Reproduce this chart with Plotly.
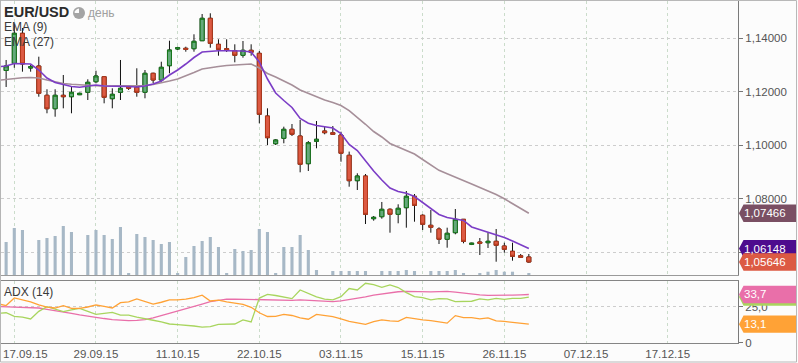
import pandas as pd
import plotly.graph_objects as go

# ---------------- data ----------------
dates = [d.strftime("%d.%m.%y") for d in pd.date_range("2015-09-15", "2015-11-30") if d.weekday() != 5]

opens = [1.13050,
         1.12798, 1.13066, 1.14187, 1.12891, 1.12966, 1.11872, 1.11371, 1.11872, 1.11819, 1.11894,
         1.11984, 1.12379, 1.12566, 1.11745, 1.11984, 1.12208, 1.12170, 1.11984, 1.12693, 1.12443,
         1.12977, 1.13600, 1.13627, 1.13612, 1.13910, 1.14747, 1.13776, 1.13612, 1.13537, 1.13365,
         1.13552, 1.13440, 1.11099, 1.10064, 1.10266, 1.10602, 1.10352, 1.09318, 1.10154, 1.10539,
         1.10475, 1.10389, 1.09631, 1.08683, 1.08858, 1.07264, 1.07339, 1.07615, 1.07428, 1.07675,
         1.08100, 1.07391, 1.07017, 1.06879, 1.06495, 1.06741, 1.07241, 1.06308, 1.06394, 1.06368,
         1.06420, 1.06244, 1.06047, 1.05882, 1.05834]
highs = [1.13300,
         1.13190, 1.14534, 1.14385, 1.13003, 1.13313, 1.12096, 1.12096, 1.12630, 1.12219, 1.11970,
         1.12469, 1.12790, 1.12590, 1.12133, 1.13190, 1.12230, 1.12880, 1.12816, 1.12716, 1.13126,
         1.13910, 1.13686, 1.13686, 1.14149, 1.14907, 1.14934, 1.13963, 1.13963, 1.13776, 1.13899,
         1.13776, 1.13526, 1.11386, 1.10229, 1.10699, 1.10800, 1.10949, 1.10165, 1.10912, 1.10699,
         1.10725, 1.10512, 1.09770, 1.08959, 1.08933, 1.07365, 1.07888, 1.07652, 1.07801, 1.08298,
         1.08186, 1.07430, 1.07589, 1.06943, 1.06928, 1.07626, 1.07253, 1.06368, 1.06543, 1.06741,
         1.06879, 1.06368, 1.06368, 1.05946, 1.05946]
lows = [1.12500,
        1.12182, 1.12900, 1.12753, 1.12753, 1.11819, 1.11200, 1.11072, 1.11386, 1.11200, 1.11880,
        1.11696, 1.12320, 1.11573, 1.11386, 1.11696, 1.12070, 1.11819, 1.11760, 1.12320, 1.12379,
        1.12693, 1.13563, 1.13500, 1.13500, 1.13899, 1.13649, 1.13350, 1.13488, 1.13104, 1.13276,
        1.13350, 1.10826, 1.10016, 1.10016, 1.10079, 1.10352, 1.08996, 1.09045, 1.09893, 1.10415,
        1.10389, 1.09392, 1.08459, 1.08335, 1.07066, 1.07189, 1.07264, 1.06741, 1.07092, 1.06928,
        1.07152, 1.06842, 1.06741, 1.06319, 1.06181, 1.06681, 1.06345, 1.06280, 1.05908, 1.06170,
        1.05658, 1.05994, 1.05696, 1.05800, 1.05620]
closes = [1.12800,
          1.12966, 1.14187, 1.13040, 1.12940, 1.11946, 1.11371, 1.11872, 1.11819, 1.11984, 1.11946,
          1.12357, 1.12592, 1.11797, 1.11909, 1.12133, 1.12133, 1.11984, 1.12693, 1.12443, 1.12917,
          1.13563, 1.13649, 1.13589, 1.13888, 1.14747, 1.13813, 1.13589, 1.13552, 1.13365, 1.13552,
          1.13477, 1.11162, 1.10288, 1.10203, 1.10602, 1.10415, 1.09295, 1.10102, 1.10229, 1.10475,
          1.10415, 1.09706, 1.08683, 1.08858, 1.07428, 1.07316, 1.07615, 1.07428, 1.07652, 1.08100,
          1.07764, 1.07055, 1.06943, 1.06495, 1.06719, 1.07241, 1.06420, 1.06345, 1.06345, 1.06420,
          1.06271, 1.06121, 1.05860, 1.05823, 1.05646]
volume = [40,
          33, 47, 45, 0, 35, 37, 39, 49, 43, 0,
          40, 45, 40, 36, 48, 2, 41, 38, 35, 31,
          33, 1.3, 18, 29, 34, 38, 28, 1.3, 26, 24,
          25, 46, 43, 1.7, 28, 28, 40, 25, 5, 0,
          4, 4, 4, 4, 4, 0, 4, 4, 4, 5,
          4, 0, 4, 4, 4, 5, 2, 0, 1.3, 3.3,
          5, 3.3, 3.3, 0, 1.3]
ema9 = [1.12940,
        1.12966, 1.13059, 1.13059, 1.13040, 1.12816, 1.12518, 1.12350, 1.12275, 1.12200, 1.12170,
        1.12200, 1.12256, 1.12219, 1.12219, 1.12219, 1.12200, 1.12182, 1.12219, 1.12294, 1.12406,
        1.12630, 1.12816, 1.13040, 1.13283, 1.13488, 1.13526, 1.13537, 1.13537, 1.13537, 1.13526,
        1.13488, 1.13115, 1.12480, 1.11957, 1.11677, 1.11416, 1.11005, 1.10826, 1.10744, 1.10688,
        1.10651, 1.10445, 1.10034, 1.09810, 1.09418, 1.09045, 1.08709, 1.08410, 1.08279, 1.08212,
        1.08093, 1.07869, 1.07645, 1.07421, 1.07309, 1.07253, 1.07197, 1.06954, 1.06861, 1.06767,
        1.06674, 1.06562, 1.06431, 1.06282, 1.06148]
ema27 = [1.12432,
         1.12462, 1.12506, 1.12525, 1.12536, 1.12518, 1.12443, 1.12368, 1.12312, 1.12282, 1.12256,
         1.12245, 1.12230, 1.12219, 1.12219, 1.12219, 1.12219, 1.12219, 1.12238, 1.12275, 1.12331,
         1.12406, 1.12480, 1.12592, 1.12723, 1.12854, 1.12910, 1.12947, 1.12984, 1.13003, 1.13022,
         1.13040, 1.12891, 1.12686, 1.12555, 1.12406, 1.12256, 1.12070, 1.11939, 1.11808, 1.11696,
         1.11603, 1.11491, 1.11300, 1.11060, 1.10790, 1.10520, 1.10315, 1.10072, 1.09941, 1.09810,
         1.09680, 1.09474, 1.09277, 1.09071, 1.08944, 1.08821, 1.08709, 1.08560, 1.08429, 1.08309,
         1.08168, 1.08007, 1.07824, 1.07641, 1.07466]
adx = [25.3,
       25.2, 25.1, 25.0, 24.8, 24.3, 23.3, 22.5, 21.5, 20.6, 19.5,
       18.5, 17.5, 17.0, 16.3, 15.8, 15.5, 15.7, 16.3, 17.5, 19.0,
       20.5, 22.0, 23.5, 25.0, 27.0, 28.7, 29.8, 30.4, 30.5, 30.3,
       30.2, 30.0, 29.9, 29.6, 29.4, 29.6, 29.9, 29.5, 29.0, 28.7,
       28.7, 29.2, 30.0, 30.8, 32.0, 33.2, 34.0, 34.8, 35.6, 35.8,
       35.6, 35.6, 35.5, 35.7, 35.9, 35.3, 34.5, 34.0, 33.4, 33.1,
       33.0, 33.0, 33.2, 33.4, 33.7]
di_minus = [20.5,
            21.0, 18.5, 18.0, 16.7, 22.0, 25.2, 23.5, 21.8, 23.0, 24.1,
            22.0, 19.9, 20.6, 21.3, 19.4, 19.3, 17.9, 17.0, 15.8, 14.6,
            13.2, 12.8, 12.5, 11.8, 11.0, 11.4, 13.0, 13.0, 13.2, 16.0,
            14.6, 31.2, 33.8, 33.0, 31.8, 30.8, 36.8, 34.2, 32.0, 30.5,
            29.9, 32.2, 37.8, 36.8, 41.5, 40.5, 38.6, 40.3, 38.5, 35.0,
            32.2, 31.5, 29.9, 30.8, 30.6, 28.7, 28.7, 29.0, 30.6, 29.9,
            31.0, 30.3, 31.0, 31.0, 31.9]
di_plus = [27.2,
           26.0, 31.3, 29.8, 28.6, 26.5, 24.9, 24.3, 25.9, 24.1, 24.1,
           25.0, 26.4, 25.5, 24.3, 28.0, 28.5, 30.6, 28.8, 27.0, 28.3,
           29.9, 30.0, 30.4, 31.5, 33.2, 29.2, 29.8, 28.5, 27.5, 26.8,
           24.8, 21.0, 18.4, 18.5, 19.9, 19.1, 17.5, 16.5, 19.9, 19.0,
           18.3, 16.7, 15.0, 14.0, 13.0, 14.8, 16.0, 15.3, 15.0, 17.8,
           16.8, 16.0, 15.6, 14.8, 13.8, 19.0, 17.6, 17.6, 16.8, 17.5,
           15.4, 15.0, 14.5, 13.8, 13.1]

tick_labels = ["17.09.15", "29.09.15", "11.10.15", "22.10.15", "03.11.15",
               "15.11.15", "26.11.15", "07.12.15", "17.12.15"]
price_ticks = [1.06, 1.08, 1.10, 1.12, 1.14]
adx_ticks = [0, 25]
adx_tick_text = ["0", "25,0"]

# ---------------- styling ----------------
RED, RED_LINE = "#dc5a43", "#b5391b"
GREEN, GREEN_LINE = "#65a97b", "#17781b"
VOL = "#a7b8c6"
EMA9_C, EMA9_BOX = "#7b3dc6", "#4e0c8e"
EMA27_C, EMA27_BOX = "#a68f99", "#7a4f63"
PINK, LIME, ORANGE = "#e96fa9", "#a8d55e", "#ffa236"
FONT = "Arial, Liberation Sans, sans-serif"

x = list(range(len(dates)))
start = dates.index(tick_labels[0])
tick_pos = [start + 10 * k for k in range(len(tick_labels))]
# the first label sits against the left edge, so it is drawn as an annotation
axis_ticktext = [""] + tick_labels[1:]

X_RANGE = [0.372, 90.61]
P_RANGE = [1.051616, 1.153928]
A_RANGE = [0, 43.06]
PRICE_DOM = [0.19883, 1]
ADX_DOM = [0, 0.18129]

fig = go.Figure()

fig.add_bar(x=x, y=volume, xaxis="x", yaxis="y", width=0.38,
            marker=dict(color=VOL, line=dict(width=0)), hoverinfo="skip")

# candles: black wicks, then bodies with coloured borders
fig.add_candlestick(x=x, open=opens, high=highs, low=lows, close=closes,
                    xaxis="x", yaxis="y2", whiskerwidth=0, hoverinfo="skip",
                    increasing=dict(fillcolor=GREEN, line=dict(color="#111111", width=1)),
                    decreasing=dict(fillcolor=RED, line=dict(color="#111111", width=1)))
body_hi = [max(o, c) for o, c in zip(opens, closes)]
body_lo = [min(o, c) for o, c in zip(opens, closes)]
fig.add_candlestick(x=x, open=opens, high=body_hi, low=body_lo, close=closes,
                    xaxis="x", yaxis="y2", whiskerwidth=0, hoverinfo="skip",
                    increasing=dict(fillcolor=GREEN, line=dict(color=GREEN_LINE, width=1)),
                    decreasing=dict(fillcolor=RED, line=dict(color=RED_LINE, width=1)))

fig.add_scatter(x=x, y=ema27, mode="lines", xaxis="x", yaxis="y2",
                line=dict(color=EMA27_C, width=1.6), hoverinfo="skip")
fig.add_scatter(x=x, y=ema9, mode="lines", xaxis="x", yaxis="y2",
                line=dict(color=EMA9_C, width=1.6), hoverinfo="skip")

fig.add_scatter(x=x, y=adx, mode="lines", xaxis="x2", yaxis="y3",
                line=dict(color=PINK, width=1.3), hoverinfo="skip")
fig.add_scatter(x=x, y=di_minus, mode="lines", xaxis="x2", yaxis="y3",
                line=dict(color=LIME, width=1.3), hoverinfo="skip")
fig.add_scatter(x=x, y=di_plus, mode="lines", xaxis="x2", yaxis="y3",
                line=dict(color=ORANGE, width=1.3), hoverinfo="skip")

grid_x = dict(showgrid=True, gridcolor="#cbdccb", griddash="dot", gridwidth=1)
grid_y = dict(showgrid=True, gridcolor="#cdcdcd", griddash="dot", gridwidth=1)

fig.update_layout(
    width=798, height=363,
    margin=dict(l=1, r=60, t=1, b=20, pad=0),
    paper_bgcolor="#fcfcfc", plot_bgcolor="#fcfcfc",
    showlegend=False, hovermode=False, separators=", ",
    font=dict(family=FONT, size=11, color="#555555"),
    xaxis=dict(domain=[0, 1], anchor="y", range=X_RANGE, tickvals=tick_pos,
               showticklabels=False, ticks="", zeroline=False,
               showline=True, mirror=True, linecolor="#9a9a9a", linewidth=1,
               rangeslider=dict(visible=False), **grid_x),
    yaxis=dict(domain=PRICE_DOM, anchor="x", range=[0, 274], visible=False),
    yaxis2=dict(overlaying="y", anchor="x", side="right", range=P_RANGE,
                tickvals=price_ticks, tickformat=".5f", ticks="outside", ticklen=4,
                tickcolor="#777777", showline=True, mirror=True, linecolor="#7a7a7a",
                zeroline=False, tickfont=dict(size=11.5, color="#555555"), **grid_y),
    xaxis2=dict(domain=[0, 1], anchor="y3", range=X_RANGE, tickvals=tick_pos,
                ticktext=axis_ticktext, ticks="", zeroline=False,
                showline=True, mirror=True, linecolor="#858585", linewidth=1,
                tickfont=dict(size=11.5, color="#555555"),
                rangeslider=dict(visible=False), **grid_x),
    yaxis3=dict(domain=ADX_DOM, anchor="x2", side="right", range=A_RANGE,
                tickvals=adx_ticks, ticktext=adx_tick_text, ticks="outside", ticklen=4,
                tickcolor="#777777", showline=True, mirror=True, linecolor="#7a7a7a",
                zeroline=False, tickfont=dict(size=11.5, color="#555555"), **grid_y),
)

shapes = []
annotations = []

# outer frame
shapes.append(dict(type="rect", xref="paper", yref="paper",
                   x0=-0.0007, x1=(796.5 - 1) / 737, y0=(343 - 362) / 342, y1=(343 - 0.5) / 342,
                   line=dict(color="#b8b8b8", width=1), fillcolor="rgba(0,0,0,0)", layer="above"))

LABEL_PATH = "M 1,0 L 5.5,8.7 L 58,8.7 L 58,-8.7 L 5.5,-8.7 Z"


def value_label(yref, value, color, text):
    shapes.append(dict(type="path", xref="paper", yref=yref,
                       xsizemode="pixel", ysizemode="pixel", xanchor=1, yanchor=value,
                       path=LABEL_PATH, fillcolor=color, line=dict(width=0), layer="above"))
    if text:
        annotations.append(dict(xref="paper", yref=yref, x=1, y=value, xanchor="left",
                                yanchor="middle", xshift=4, text=text, showarrow=False,
                                font=dict(color="white", size=11.5, family=FONT)))


def price_text(v):
    return f"{v:.5f}".replace(".", ",")


def adx_text(v):
    return f"{v:.1f}".replace(".", ",")


value_label("y2", ema27[-1], EMA27_BOX, price_text(ema27[-1]))
value_label("y2", ema9[-1], EMA9_BOX, price_text(ema9[-1]))
value_label("y2", closes[-1], RED, price_text(closes[-1]))
value_label("y3", di_minus[-1], LIME, "")          # hidden under the ADX label in the reference
value_label("y3", adx[-1], PINK, adx_text(adx[-1]))
value_label("y3", di_plus[-1], ORANGE, adx_text(di_plus[-1]))

# first date label, pushed inside the frame
annotations.append(dict(xref="paper", yref="paper", x=0, y=0, xanchor="left", yanchor="middle",
                        xshift=0, yshift=-11, text=tick_labels[0], showarrow=False,
                        font=dict(size=11.5, color="#555555", family=FONT)))

# top-left titles
annotations.append(dict(xref="paper", yref="paper", x=0, y=1, xanchor="left", yanchor="middle",
                        xshift=1, yshift=-11, text="<b>EUR/USD</b>", showarrow=False,
                        font=dict(size=14.5, color="#2b2b2b", family=FONT)))
annotations.append(dict(xref="paper", yref="paper", x=0, y=1, xanchor="left", yanchor="middle",
                        xshift=85, yshift=-12, text="день", showarrow=False,
                        font=dict(size=12, color="#a0a0a0", family=FONT)))
annotations.append(dict(xref="paper", yref="paper", x=0, y=1, xanchor="left", yanchor="middle",
                        xshift=1, yshift=-25.5, text="EMA (9)", showarrow=False,
                        font=dict(size=12, color="#3a3a3a", family=FONT)))
annotations.append(dict(xref="paper", yref="paper", x=0, y=1, xanchor="left", yanchor="middle",
                        xshift=1, yshift=-40.5, text="EMA (27)", showarrow=False,
                        font=dict(size=12, color="#3a3a3a", family=FONT)))
annotations.append(dict(xref="paper", yref="paper", x=0, y=ADX_DOM[1], xanchor="left",
                        yanchor="middle", xshift=1, yshift=-11, text="ADX (14)", showarrow=False,
                        font=dict(size=12, color="#3a3a3a", family=FONT)))

# clock icon next to the timeframe
shapes.append(dict(type="circle", xref="paper", yref="paper", xsizemode="pixel", ysizemode="pixel",
                   xanchor=0, yanchor=1, x0=72, x1=84, y0=-6, y1=-18,
                   fillcolor="#a4a4a4", line=dict(width=0), layer="above"))
shapes.append(dict(type="path", xref="paper", yref="paper", xsizemode="pixel", ysizemode="pixel",
                   xanchor=0, yanchor=1,
                   path="M 78,-12 L 78,-7.6 L 76.3,-7.9 L 74.9,-8.9 L 73.9,-10.3 L 73.6,-12 Z",
                   fillcolor="#fcfcfc", line=dict(width=0), layer="above"))

fig.update_layout(shapes=shapes, annotations=annotations)

fig.write_html("out.html", config={"displayModeBar": False},
               post_script="document.body.style.margin='0px';")
